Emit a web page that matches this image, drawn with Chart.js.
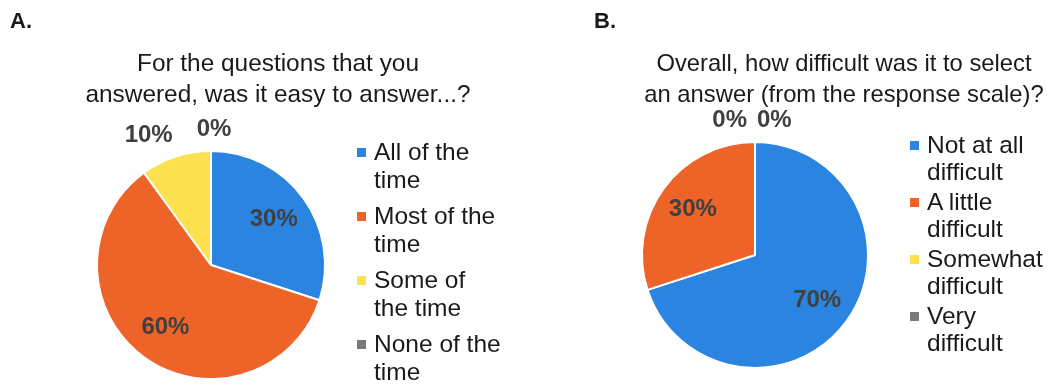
<!DOCTYPE html>
<html>
<head>
<meta charset="utf-8">
<script src="https://cdn.jsdelivr.net/npm/chart.js@4/dist/chart.umd.min.js"></script>
<style>
  body { margin: 0; background: #fff; font-family: "Liberation Sans", Arial, sans-serif; color: #1a1a1a; }
  #wrap { position: relative; width: 1056px; height: 387px; overflow: hidden; }
  canvas { position: absolute; top: 0; }
  .panel-tag { position: absolute; top: 8px; font-weight: bold; font-size: 22px; }
  .title { position: absolute; top: 47px; width: 460px; text-align: center; font-size: 24px; line-height: 31px; }
  .legend { position: absolute; font-size: 24.5px; }
  .legend .item { position: relative; }
  .legend .box { position: absolute; left: 0; width: 9px; height: 9px; }
</style>
</head>
<body>
<div id="wrap">
  <canvas id="pie-a" width="528" height="387" style="left:0"></canvas>
  <canvas id="pie-b" width="528" height="387" style="left:528px"></canvas>
  <div class="panel-tag" style="left:10px">A.</div>
  <div class="panel-tag" style="left:594px">B.</div>
  <div class="title" style="left:48px; font-size:24.4px">For the questions that you<br>answered, was it easy to answer...?</div>
  <div class="title" style="left:614px; font-size:23.8px">Overall, how difficult was it to select<br>an answer (from the response scale)?</div>
  <div class="legend" id="legend-a" style="left:357px; top:138px"></div>
  <div class="legend" id="legend-b" style="left:910px; top:131px"></div>
</div>
<script>
const categoriesA = [["All of the", "time"], ["Most of the", "time"], ["Some of", "the time"], ["None of the", "time"]];
const valuesA = [30, 60, 10, 0];

const categoriesB = [["Not at all", "difficult"], ["A little", "difficult"], ["Somewhat", "difficult"], ["Very", "difficult"]];
const valuesB = [70, 30, 0, 0];

const sliceColors = ["#2b84df", "#ee6428", "#fde14f", "#7b7b7b"];

// percentage labels: inside for big slices, outside for small ones
const pctLabels = {
  id: "pctLabels",
  afterDatasetsDraw(chart) {
    const ctx = chart.ctx;
    const meta = chart.getDatasetMeta(0);
    const values = chart.data.datasets[0].data;
    const total = values.reduce((a, b) => a + b, 0);
    const outside = [];
    ctx.save();
    ctx.font = "bold 24px 'Liberation Sans', Arial, sans-serif";
    ctx.fillStyle = "#404040";
    meta.data.forEach((arc, i) => {
      const pct = Math.round((values[i] / total) * 100);
      const text = pct + "%";
      const mid = (arc.startAngle + arc.endAngle) / 2;
      const cos = Math.cos(mid);
      const sin = Math.sin(mid);
      if (pct >= 20) {
        const d = arc.outerRadius * 0.68;
        ctx.textAlign = "center";
        ctx.textBaseline = "middle";
        ctx.fillText(text, arc.x + cos * d, arc.y + sin * d);
        return;
      }
      const d = arc.outerRadius + 10;
      const ax = arc.x + cos * d;
      const ay = arc.y + sin * d;
      const w = ctx.measureText(text).width;
      let left = ax - w / 2 + 3;
      if (Math.abs(cos) >= 0.1) left = cos > 0 ? ax : ax - w;
      outside.push({ text, ax, ay, w, left, below: sin > 0 });
    });
    // spread labels that share the same anchor
    const groups = [];
    outside.forEach((lab) => {
      const g = groups.find((grp) => Math.hypot(grp[0].ax - lab.ax, grp[0].ay - lab.ay) < 5);
      if (g) g.push(lab); else groups.push([lab]);
    });
    groups.forEach((grp) => {
      if (grp.length > 1) {
        const gap = 10;
        const totalW = grp.reduce((s, l) => s + l.w, 0) + gap * (grp.length - 1);
        let x = grp[0].ax - totalW / 2 - 3;
        grp.forEach((l) => { l.left = x; x += l.w + gap; });
      }
      grp.forEach((l) => {
        ctx.textAlign = "left";
        ctx.textBaseline = l.below ? "top" : "bottom";
        ctx.fillText(l.text, l.left, l.ay);
      });
    });
    ctx.restore();
  },
};

function buildLegend(chart, elId, lineHeight, gap) {
  const items = chart.options.plugins.legend.labels.generateLabels(chart);
  const el = document.getElementById(elId);
  el.style.lineHeight = lineHeight + "px";
  el.innerHTML = items
    .map(
      (item) => `
        <div class="item" style="padding-left:17px; margin-bottom:${gap}px">
          <span class="box" style="background:${item.fillStyle}; top:${lineHeight / 2 - 4}px"></span>
          ${[].concat(chart.data.labels[item.index]).join("<br>")}
        </div>
      `,
    )
    .join("");
}

function makePie(canvasId, labels, values, padding, radius) {
  return new Chart(document.getElementById(canvasId), {
    type: "pie",
    data: {
      labels: labels,
      datasets: [{
        data: values,
        backgroundColor: sliceColors,
        borderColor: "#ffffff",
        borderWidth: 2,
        radius: radius,
      }],
    },
    options: {
      responsive: false,
      animation: false,
      layout: { padding: padding },
      plugins: { legend: { display: false }, tooltip: { enabled: false } },
    },
    plugins: [pctLabels],
  });
}

const chartA = makePie("pie-a", categoriesA, valuesA, { left: 97, right: 203, top: 151, bottom: 8 }, 114);
const chartB = makePie("pie-b", categoriesB, valuesB, { left: 113, right: 187, top: 143, bottom: 20 }, 113);

buildLegend(chartA, "legend-a", 28, 8);
buildLegend(chartB, "legend-b", 27, 3);
</script>
</body>
</html>
